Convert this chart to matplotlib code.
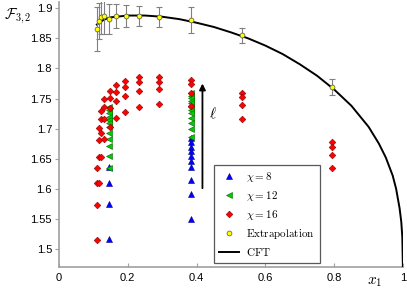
import matplotlib
matplotlib.use("Agg")
import matplotlib.pyplot as plt
from matplotlib.lines import Line2D

plt.rcParams['mathtext.fontset'] = 'cm'
plt.rcParams['font.family'] = ['Liberation Sans', 'DejaVu Sans']

# ---- data ----
ext_x = [0.111, 0.115, 0.122, 0.132, 0.146, 0.166, 0.194, 0.233, 0.292, 0.383, 0.531, 0.793]
ext_y = [1.8656, 1.879, 1.885, 1.887, 1.883, 1.887, 1.887, 1.887, 1.8856, 1.8806, 1.855, 1.769]
ext_err = [0.037, 0.030, 0.028, 0.030, 0.025, 0.020, 0.018, 0.017, 0.017, 0.022, 0.013, 0.013]

chi16_x = ([0.111] * 4 + [0.116] * 4 + [0.122] * 4 + [0.131] * 4 + [0.147] * 4 + [0.166] * 4
           + [0.193] * 4 + [0.233] * 4 + [0.292] * 4 + [0.383] * 4 + [0.531] * 4 + [0.793] * 4)
chi16_y = [1.634, 1.609, 1.573, 1.515,
           1.7006, 1.681, 1.653, 1.609,
           1.730, 1.7155, 1.692, 1.653,
           1.749, 1.7365, 1.7155, 1.682,
           1.7625, 1.7505, 1.734, 1.703,
           1.7725, 1.761, 1.746, 1.717,
           1.7797, 1.770, 1.755, 1.728,
           1.7853, 1.777, 1.762, 1.7365,
           1.7863, 1.778, 1.7654, 1.741,
           1.781, 1.775, 1.760, 1.7375,
           1.7597, 1.752, 1.739, 1.716,
           1.677, 1.670, 1.657, 1.634]

chi12_x = [0.146] * 12 + [0.383] * 12
chi12_y = [1.7365, 1.731, 1.7255, 1.720, 1.7145, 1.709, 1.703, 1.692, 1.682, 1.671, 1.6545, 1.635,
           1.7587, 1.7543, 1.7504, 1.7464, 1.7421, 1.7365, 1.731, 1.7255, 1.7172, 1.709, 1.699, 1.686]

chi8_x = [0.146] * 4 + [0.383] * 10
chi8_y = [1.636, 1.609, 1.574, 1.516,
          1.684, 1.677, 1.670, 1.662, 1.655, 1.647, 1.637, 1.615, 1.591, 1.550]

cft_x = [0.11, 0.13, 0.15, 0.20, 0.25, 0.30, 0.35, 0.40, 0.45, 0.50, 0.55, 0.60, 0.65,
         0.70, 0.75, 0.80, 0.85, 0.90, 0.93, 0.95, 0.97, 0.98, 0.99, 0.995, 0.998, 1.0]
cft_y = [1.873, 1.881, 1.885, 1.888, 1.888, 1.886, 1.882, 1.876, 1.869, 1.860, 1.850, 1.838, 1.824,
         1.807, 1.788, 1.765, 1.738, 1.703, 1.675, 1.652, 1.622, 1.600, 1.568, 1.545, 1.520, 1.46]

arrow_x = 0.417
arrow_y = (1.601, 1.775)

fig = plt.figure(figsize=(4.07, 2.91), dpi=100)
ax = fig.add_axes([59 / 407, 24 / 291, 344 / 407, 264.7 / 291])

ms_tri = 3.7
ms_dia = 3.4
ms_circ = 3.5

ax.plot(chi8_x, chi8_y, linestyle='none', marker='^', markersize=ms_tri,
        markerfacecolor='#0000ff', markeredgecolor='#00008b', markeredgewidth=0.4, zorder=3)
ax.plot(chi12_x, chi12_y, linestyle='none', marker='<', markersize=ms_tri,
        markerfacecolor='#00cc00', markeredgecolor='#006400', markeredgewidth=0.4, zorder=4)
ax.plot(chi16_x, chi16_y, linestyle='none', marker='D', markersize=ms_dia,
        markerfacecolor='#ff0000', markeredgecolor='#8b0000', markeredgewidth=0.4, zorder=5)

ax.plot(cft_x, cft_y, color='black', linewidth=1.4, zorder=6)
ax.errorbar(ext_x, ext_y, yerr=ext_err, fmt='none', ecolor='#808080',
            elinewidth=0.8, capsize=2.0, capthick=0.8, zorder=7)
ax.plot(ext_x, ext_y, linestyle='none', marker='o', markersize=ms_circ,
        markerfacecolor='#ffff00', markeredgecolor='#505050', markeredgewidth=0.5, zorder=8)

ax.annotate('', xy=(arrow_x, arrow_y[1]), xytext=(arrow_x, arrow_y[0]),
            arrowprops=dict(arrowstyle='-|>', color='black', lw=1.3,
                            mutation_scale=9, shrinkA=0, shrinkB=0), zorder=6)
ax.text(0.449, 1.7255, r'$\ell$', fontsize=11, ha='center', va='center')

ax.set_xlim(0, 1)
ax.set_ylim(1.47, 1.91)
ax.set_xticks([0, 0.2, 0.4, 0.6, 0.8, 1.0])
ax.set_xticklabels(['0', '0.2', '0.4', '0.6', '0.8', '1'])
yt = [1.5, 1.55, 1.6, 1.65, 1.7, 1.75, 1.8, 1.85, 1.9]
ax.set_yticks(yt)
ax.set_yticklabels(['1.5', '1.55', '1.6', '1.65', '1.7', '1.75', '1.8', '1.85', '1.9'])

for s in ['top', 'right']:
    ax.spines[s].set_visible(False)
for s in ['left', 'bottom']:
    ax.spines[s].set_color('#a0a0a0')
    ax.spines[s].set_linewidth(1.2)
ax.tick_params(axis='x', direction='in', length=3, color='#a0a0a0', labelsize=8, pad=4)
ax.tick_params(axis='y', direction='out', length=3, color='#a0a0a0', labelsize=8, pad=2)

ax.text(-0.121, 0.946, r'$\mathcal{F}_{3,2}$', transform=ax.transAxes,
        fontsize=10.5, ha='center', va='center')
ax.text(0.919, -0.057, r'$x_1$', transform=ax.transAxes,
        fontsize=11, ha='center', va='center')

handles = [
    Line2D([], [], linestyle='none', marker='^', markersize=ms_tri, markerfacecolor='#0000ff',
           markeredgecolor='#00008b', markeredgewidth=0.4),
    Line2D([], [], linestyle='none', marker='<', markersize=ms_tri, markerfacecolor='#00cc00',
           markeredgecolor='#006400', markeredgewidth=0.4),
    Line2D([], [], linestyle='none', marker='D', markersize=ms_dia, markerfacecolor='#ff0000',
           markeredgecolor='#8b0000', markeredgewidth=0.4),
    Line2D([], [], linestyle='none', marker='o', markersize=ms_circ, markerfacecolor='#ffff00',
           markeredgecolor='#505050', markeredgewidth=0.5),
    Line2D([], [], color='black', linewidth=1.4),
]
labels = [r'$\chi = 8$', r'$\chi = 12$', r'$\chi = 16$', r'$\mathrm{Extrapolation}$', r'$\mathrm{CFT}$']
leg = ax.legend(handles, labels, loc='upper left', bbox_to_anchor=(0.4506, 0.3853),
                borderaxespad=0, fontsize=8, frameon=True, fancybox=False,
                handlelength=1.8, handletextpad=0.6, labelspacing=0.45, borderpad=0.45)
leg.get_frame().set_edgecolor('#303030')
leg.get_frame().set_linewidth(0.9)
leg.set_zorder(10)

fig.savefig('out.png', dpi=100)
